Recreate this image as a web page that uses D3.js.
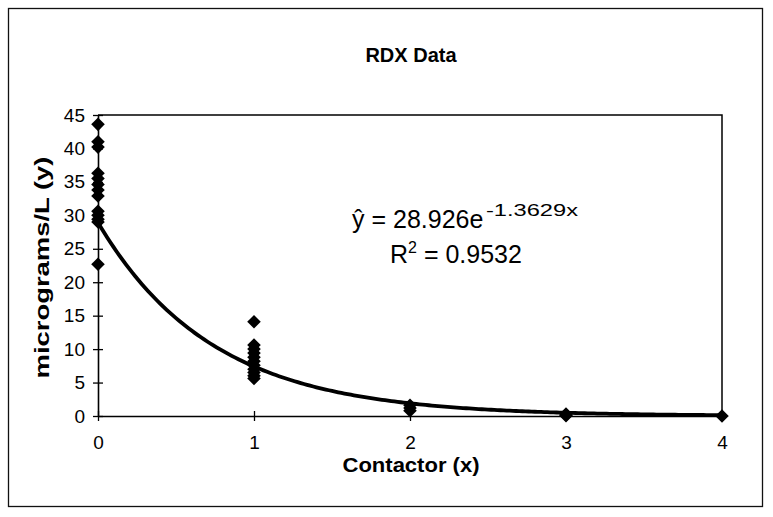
<!DOCTYPE html>
<html>
<head>
<meta charset="utf-8">
<script src="https://cdn.jsdelivr.net/npm/d3@7"></script>
<style>
  html, body { margin: 0; padding: 0; background: #fff; }
  svg { display: block; font-family: "Liberation Sans", Arial, sans-serif; }
</style>
</head>
<body>
<svg id="chart" width="773" height="517"></svg>
<script>
// ---- data ----
const contactor0 = [43.6, 41.0, 40.2, 36.3, 35.5, 34.6, 33.8, 32.9, 30.6, 30.0, 29.4, 29.0, 22.7];
const contactor1 = [14.1, 10.6, 10.0, 9.4, 8.8, 8.2, 7.6, 7.0, 6.5, 6.0, 5.6];
const contactor2 = [1.6, 1.2, 0.8];
const contactor3 = [0.3, 0.15, 0.05];
const contactor4 = [0.0];
const contactorGroups = [0, 1, 2, 3, 4];
const xTicks = [0, 1, 2, 3, 4];
const yTicks = [0, 5, 10, 15, 20, 25, 30, 35, 40, 45];
const fitA = 28.926;
const fitB = -1.3629;
const rSquared = 0.9532;
const titleText = "RDX Data";
const xTitle = "Contactor (x)";
const yTitle = "micrograms/L (y)";

const groups = [contactor0, contactor1, contactor2, contactor3, contactor4];
const points = [];
groups.forEach((vals, i) => vals.forEach(v => points.push({x: contactorGroups[i], y: v})));

// ---- layout ----
const svg = d3.select("#chart");
const plot = {left: 98, right: 722, top: 115, bottom: 416};
const FONT = "'Liberation Sans', Arial, sans-serif";

const x = d3.scaleLinear().domain([0, 4]).range([plot.left, plot.right]);
const y = d3.scaleLinear().domain([0, 45]).range([plot.bottom, plot.top]);

// outer border
svg.append("rect")
  .attr("x", 8.5).attr("y", 8.5)
  .attr("width", 754).attr("height", 498)
  .attr("fill", "none").attr("stroke", "#111").attr("stroke-width", 1.3);

// plot frame (top & right)
svg.append("path")
  .attr("d", `M${plot.left},${plot.top}H${plot.right}V${plot.bottom}`)
  .attr("fill", "none").attr("stroke", "#000").attr("stroke-width", 1.5);

// y axis
const yAxis = d3.axisLeft(y).tickValues(yTicks).tickSize(0).tickPadding(13).tickFormat(d3.format("d"));
const gy = svg.append("g").attr("transform", `translate(${plot.left},0)`).call(yAxis);
gy.select(".domain").attr("stroke", "#000").attr("stroke-width", 1.6);
gy.selectAll(".tick text").attr("font-size", 19).attr("fill", "#000").attr("font-family", FONT);
gy.selectAll(".tick").append("line")
  .attr("x1", -5).attr("x2", 5).attr("stroke", "#000").attr("stroke-width", 1.3);

// x axis
const xAxis = d3.axisBottom(x).tickValues(xTicks).tickSize(0).tickPadding(20).tickFormat(d3.format("d"));
const gx = svg.append("g").attr("transform", `translate(0,${plot.bottom})`).call(xAxis);
gx.select(".domain").attr("stroke", "#000").attr("stroke-width", 1.6);
gx.selectAll(".tick text").attr("font-size", 19).attr("fill", "#000").attr("font-family", FONT);
gx.selectAll(".tick").append("line")
  .attr("y1", -5).attr("y2", 5).attr("stroke", "#000").attr("stroke-width", 1.3);

// fitted curve
const curveXs = d3.range(0, 4.0001, 0.02);
const line = d3.line().x(d => x(d)).y(d => y(fitA * Math.exp(fitB * d)));
svg.append("path")
  .datum(curveXs)
  .attr("d", line)
  .attr("fill", "none").attr("stroke", "#000").attr("stroke-width", 3.8)
  .attr("stroke-linejoin", "round");

// points (diamonds)
const diamond = d3.symbol().type(d3.symbolSquare).size(92);
svg.append("g").selectAll("path")
  .data(points).join("path")
  .attr("d", diamond)
  .attr("transform", d => `translate(${x(d.x)},${y(d.y)}) rotate(45)`)
  .attr("fill", "#000");

// title
svg.append("text")
  .attr("x", 411).attr("y", 62)
  .attr("text-anchor", "middle")
  .attr("font-size", 20).attr("font-weight", "bold")
  .text(titleText);

// axis titles
svg.append("text")
  .attr("x", 411).attr("y", 472)
  .attr("text-anchor", "middle")
  .attr("font-size", 21).attr("font-weight", "bold")
  .attr("textLength", 137).attr("lengthAdjust", "spacingAndGlyphs")
  .text(xTitle);

svg.append("text")
  .attr("transform", `translate(49,${(plot.top + plot.bottom) / 2 + 2}) rotate(-90)`)
  .attr("text-anchor", "middle")
  .attr("font-size", 20).attr("font-weight", "bold")
  .attr("textLength", 222).attr("lengthAdjust", "spacingAndGlyphs")
  .text(yTitle);

// equation
svg.append("text")
  .attr("x", 352).attr("y", 228)
  .attr("font-size", 25)
  .text("\u0177 = " + fitA.toFixed(3) + "e");
svg.append("text")
  .attr("x", 486).attr("y", 216)
  .attr("font-size", 17)
  .attr("textLength", 92).attr("lengthAdjust", "spacingAndGlyphs")
  .text(fitB.toFixed(4) + "x");

const r2 = svg.append("text")
  .attr("x", 390).attr("y", 263)
  .attr("font-size", 25);
r2.append("tspan").text("R");
r2.append("tspan").attr("dy", -10).attr("font-size", 16).text("2");
r2.append("tspan").attr("dy", 10).text(" = " + rSquared.toFixed(4));
</script>
</body>
</html>
